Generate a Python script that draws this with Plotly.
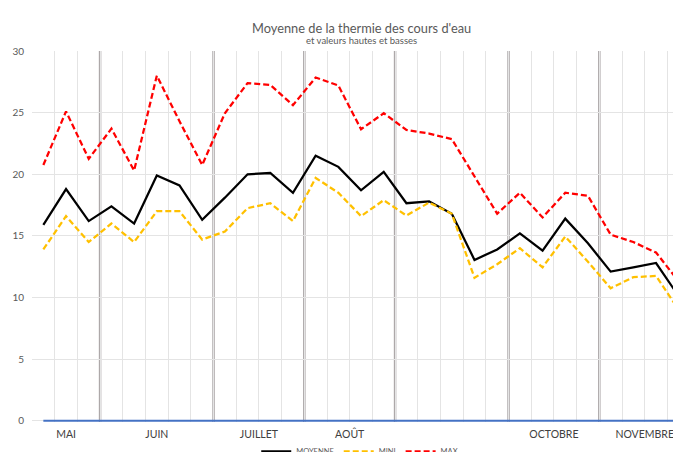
import plotly.graph_objects as go

# ---- data ----
months = ["MAI", "JUIN", "JUILLET", "AOÛT", "", "OCTOBRE", "NOVEMBRE"]
month_counts = [3, 5, 4, 4, 5, 4, 4]

moyenne = [15.9, 18.8, 16.2, 17.4, 16.0, 19.9, 19.1, 16.3, 18.1, 20.0,
           20.1, 18.5, 21.5, 20.6, 18.7, 20.2, 17.65, 17.8, 16.8, 13.05,
           13.9, 15.2, 13.8, 16.4, 14.4, 12.1, 12.45, 12.8, 10.1]
mini = [13.9, 16.6, 14.5, 16.0, 14.5, 17.0, 17.0, 14.7, 15.35, 17.25,
        17.65, 16.2, 19.7, 18.5, 16.6, 17.9, 16.65, 17.7, 16.8, 11.6,
        12.7, 14.0, 12.45, 14.95, 12.9, 10.75, 11.65, 11.75, 9.0]
maxi = [20.75, 25.1, 21.25, 23.7, 20.3, 28.0, 24.3, 20.75, 24.95, 27.4,
        27.25, 25.6, 27.85, 27.2, 23.65, 24.95, 23.6, 23.3, 22.85, 19.8,
        16.8, 18.5, 16.5, 18.5, 18.25, 15.1, 14.5, 13.65, 11.3]
baseline = [0] * len(moyenne)

x = list(range(len(moyenne)))

# month boundaries and centers
bounds = []
centers = []
start = 0
for c in month_counts:
    centers.append(start + (c - 1) / 2)
    start += c
    bounds.append(start - 0.5)
inner_bounds = bounds[:-1]

font_family = "Lato, 'Open Sans', sans-serif"

fig = go.Figure()
fig.add_trace(go.Scatter(x=x, y=baseline, mode="lines", showlegend=False,
                         line=dict(color="#4472C4", width=2), hoverinfo="skip"))
fig.add_trace(go.Scatter(x=x, y=moyenne, mode="lines", name="MOYENNE",
                         line=dict(color="#000000", width=2.25)))
fig.add_trace(go.Scatter(x=x, y=mini, mode="lines", name="MINI",
                         line=dict(color="#FFC000", width=2.25, dash="6px,3px")))
fig.add_trace(go.Scatter(x=x, y=maxi, mode="lines", name="MAX",
                         line=dict(color="#FF0000", width=2.25, dash="6px,3px")))

for b in inner_bounds:
    fig.add_shape(type="line", xref="x", yref="y", x0=b, x1=b, y0=-0.45, y1=30,
                  line=dict(color="#ADA8A9", width=2.5), layer="below")

mid = (len(x) - 1) / 2
fig.add_annotation(text="Moyenne de la thermie des cours d'eau", xref="x", yref="paper",
                   x=mid, y=1, yshift=33, showarrow=False,
                   font=dict(family=font_family, size=12.8, color="#595959"))
fig.add_annotation(text="et valeurs hautes et basses", xref="x", yref="paper",
                   x=mid, y=1, yshift=18, showarrow=False,
                   font=dict(family=font_family, size=9.5, color="#595959"))

fig.update_layout(
    width=673, height=444,
    margin=dict(l=24, r=0, t=43, b=30, autoexpand=False),
    paper_bgcolor="white", plot_bgcolor="white",
    font=dict(family=font_family, color="#595959"),
    xaxis=dict(range=[-0.5, 28.1], tickmode="array", tickvals=centers, ticktext=months,
               showgrid=False, zeroline=False, showline=False, ticks="",
               automargin=False, ticklabelstandoff=4,
               tickfont=dict(size=10.5, color="#404040"),
               minor=dict(tickmode="linear", tick0=-0.5, dtick=1, showgrid=True,
                          gridcolor="#E4E4E4", gridwidth=1, ticks="")),
    yaxis=dict(range=[-0.1, 30], tickmode="array", tickvals=[0, 5, 10, 15, 20, 25, 30],
               showgrid=True, gridcolor="#E4E4E4", gridwidth=1, zeroline=False,
               showline=False, ticks="", ticklabelstandoff=7, automargin=False,
               tickfont=dict(size=10, color="#595959")),
    legend=dict(orientation="h", x=0.505, xanchor="center", y=-0.04, yanchor="top",
                font=dict(size=7.5, color="#595959"), bgcolor="rgba(0,0,0,0)"),
    showlegend=True,
)

fig.write_html("out.html")
